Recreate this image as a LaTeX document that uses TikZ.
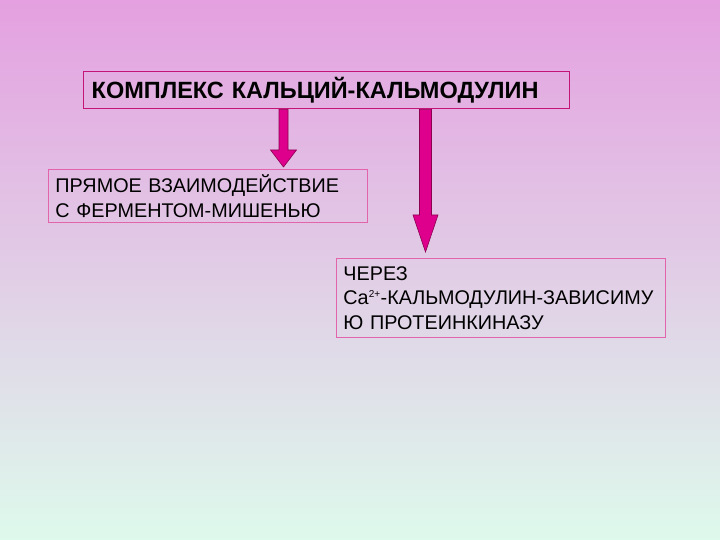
\documentclass[tikz,border=0pt]{standalone}
\usepackage{fontspec}
\setmainfont{Liberation Sans}
\usetikzlibrary{calc}
\definecolor{bgtop}{RGB}{228,160,224}
\definecolor{bgbot}{RGB}{222,250,236}
\definecolor{mainborder}{RGB}{196,20,120}
\definecolor{boxborder}{RGB}{226,100,170}
\definecolor{arrfill}{RGB}{222,0,140}
\definecolor{arrline}{RGB}{140,0,80}
\tikzset{
  box/.style={draw=boxborder, line width=0.9pt, anchor=north west, align=left,
    inner xsep=7pt, inner ysep=0pt, font=\fontsize{19.8}{24.5}\selectfont},
  mainbox/.style={draw=mainborder, line width=1.4pt, anchor=north west, align=left,
    inner xsep=8pt, inner ysep=0pt, font=\fontsize{23.5}{26}\selectfont\bfseries},
  fatarrow/.style={fill=arrfill, draw=arrline, line width=0.6pt, line join=miter}
}
\begin{document}
\begin{tikzpicture}[x=1pt,y=-1pt]
\shade[top color=bgtop, bottom color=bgbot] (0,0) rectangle (720,540);
\useasboundingbox (0,0) rectangle (720,540);
\node[mainbox, text width=470pt, minimum height=37pt] (main) at (83,71)
  {\mbox{КОМПЛЕКС КАЛЬЦИЙ-КАЛЬМОДУЛИН}};
\node[box, text width=305pt, minimum height=53pt] (left) at (48,169)
  {\mbox{ПРЯМОЕ ВЗАИМОДЕЙСТВИЕ}\\\mbox{С ФЕРМЕНТОМ-МИШЕНЬЮ}};
\node[box, text width=315pt, minimum height=79pt] (right) at (336,258)
  {\mbox{ЧЕРЕЗ}\\\mbox{Ca\textsuperscript{\fontsize{10}{10}\selectfont 2+}-КАЛЬМОДУЛИН-ЗАВИСИМУ}\\\mbox{Ю ПРОТЕИНКИНАЗУ}};
\coordinate (ax1) at (283.5,0);
\coordinate (ax2) at (425.5,0);
\path[fatarrow] let \p1=(main.south -| ax1), \p2=(left.north -| ax1) in
  (\x1-4.5pt,\y1) -- (\x1-4.5pt,\y2+19pt) -- (\x1-13pt,\y2+19pt) -- (\x1,\y2+2pt)
  -- (\x1+13pt,\y2+19pt) -- (\x1+4.5pt,\y2+19pt) -- (\x1+4.5pt,\y1) -- cycle;
\path[fatarrow] let \p1=(main.south -| ax2), \p2=(right.north -| ax2) in
  (\x1-6pt,\y1) -- (\x1-6pt,\y2+43pt) -- (\x1-12.5pt,\y2+43pt) -- (\x1,\y2+6pt)
  -- (\x1+12.5pt,\y2+43pt) -- (\x1+6pt,\y2+43pt) -- (\x1+6pt,\y1) -- cycle;
\end{tikzpicture}
\end{document}
